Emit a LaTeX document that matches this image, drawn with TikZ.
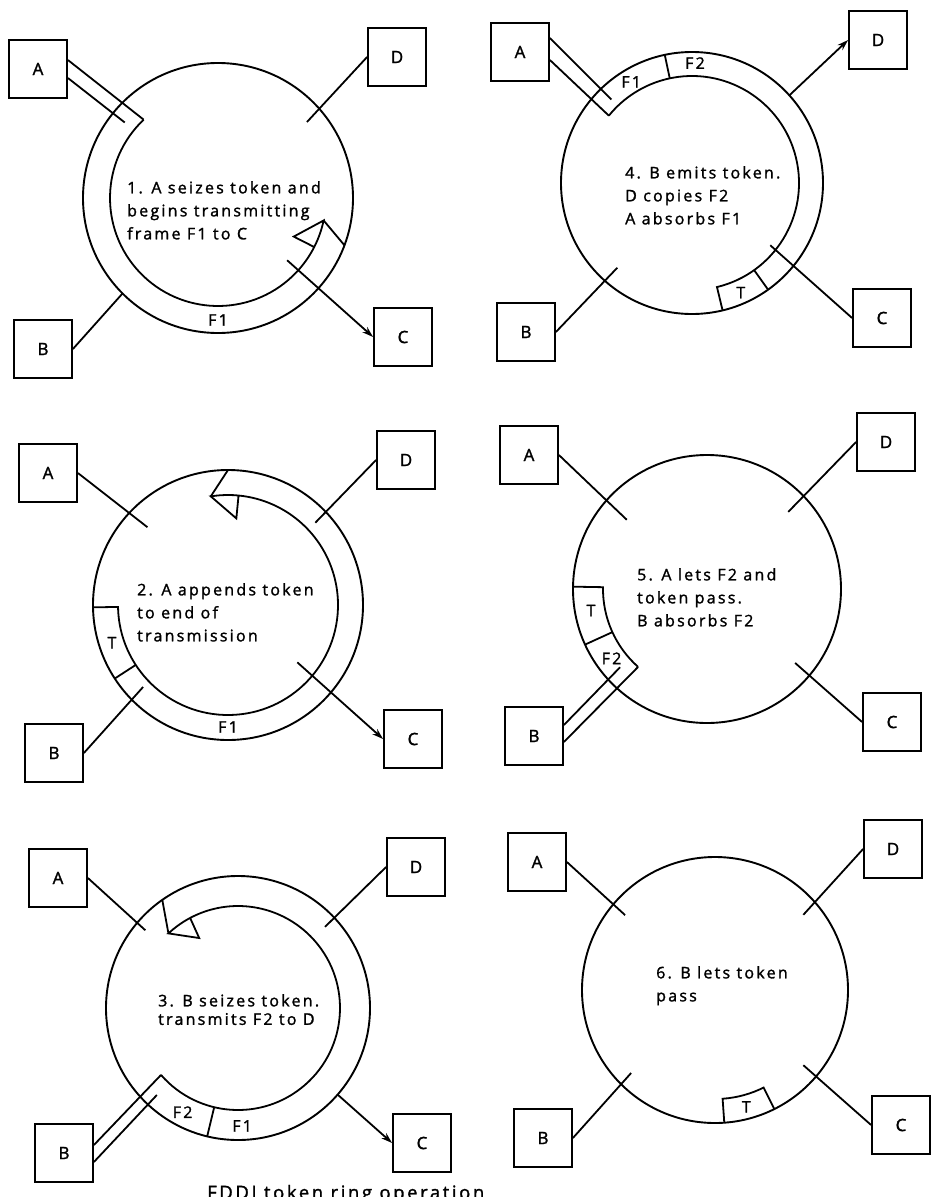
\documentclass[tikz,border=0pt]{standalone}
\usepackage{fontspec}
\setmainfont{Open Sans}[LetterSpace=14, FakeBold=1.5]
\usetikzlibrary{arrows.meta,calc}

\begin{document}
\begin{tikzpicture}[
        x=1pt,
        y=1pt,
        ring/.style={line width=1.9pt},
        band/.style={line width=1.8pt, line join=miter},
        link/.style={line width=1.8pt},
        station/.style={draw, line width=1.8pt, minimum width=58pt, minimum height=58pt, inner sep=0pt, font=\fontsize{17}{17}\selectfont},
        slot/.style={inner sep=0pt, font=\fontsize{16}{16}\selectfont},
        remark/.style={anchor=north west, align=left, inner sep=0pt, font=\fontsize{16}{23}\selectfont},
        >={Stealth[length=11pt, width=7pt]}
    ]
        \path[use as bounding box, fill=white] (0,0) rectangle (935,-1197);

        % rings
        \foreach \p/\x/\y/\rad in {1/218/198/135, 2/228/605/135, 3/238/1008/132,
                                  4/692/183/131, 5/707/589/134, 6/715/990/133}{
            \coordinate (O\p) at (\x,-\y);
            \draw[ring] (O\p) circle[radius=\rad];
        }

        % stations
        \foreach \p/\s/\x/\y in {
            1/A/38/69, 1/B/43/349, 1/C/403/337, 1/D/397/57,
            2/A/48/473, 2/B/54/753, 2/C/413/739, 2/D/406/460,
            3/A/58/878, 3/B/64/1153, 3/C/422/1143, 3/D/416/867,
            4/A/520/52, 4/B/526/332, 4/C/882/318, 4/D/878/40,
            5/A/529/455, 5/B/534/736, 5/C/892/722, 5/D/886/442,
            6/A/537/862, 6/B/543/1138, 6/C/901/1125, 6/D/893/849
        }{
            \node[station] (\s\p) at (\x,-\y) {\s};
        }

        % plain taps
        \foreach \n/\anc/\p/\ang/\rad in {
            D1/west/1/40.5/117, B1/east/1/225/135,
            A2/east/2/136/112, D2/west/2/43.3/120, B2/east/2/224/118,
            A3/east/3/140/121, D3/west/3/43/119,
            B4/east/4/228.6/113, C4/west/4/321.5/100,
            A5/east/5/139.2/106, D5/west/5/43.5/112, C5/west/5/320/115,
            A6/east/6/140.2/117, D6/west/6/40.4/116, B6/east/6/224.7/118, C6/west/6/319.6/116
        }{
            \coordinate (in\n) at ($(O\p)+(\ang:\rad)$);
            \draw[link] (\n.\anc) -- (in\n);
        }

        % taps with arrows
        \coordinate (inC1) at ($(O1)+(318:93)$);
        \draw[link,->] (inC1) -- (C1.west);
        \coordinate (inC2) at ($(O2)+(320.4:90)$);
        \draw[link,->] (inC2) -- (C2.west);
        \coordinate (inC3) at ($(O3)+(319:132)$);
        \draw[link,->] (inC3) -- (C3.west);
        \coordinate (inD4) at ($(O4)+(42:131)$);
        \draw[link,->] (inD4) -- (D4.west);

        % 1: F1 leaves A
        \coordinate (V1) at ($(O1)+(133.5:108)$);
        \coordinate (S1) at ($(O1)+(141:120)$);
        \draw[link] ([yshift=9pt]A1.east) -- (V1);
        \draw[link] ([yshift=-9pt]A1.east) -- (S1);
        \draw[band] (V1) arc[start angle=133.5, end angle=348, radius=108] coordinate (T1)
            -- ($(O1)+(333:85)$) -- ($(O1)+(333:108)$);
        \draw[band] (T1) -- ($(O1)+(339.5:135)$);
        \node[slot] (L1a) at ($(O1)+(270:122)$) {F1};

        % 2: token behind F1
        \draw[band] ($(O2)+(181:135)$) -- ($(O2)+(181:110)$)
            arc[start angle=181, end angle=459, radius=110] coordinate (T2)
            -- ($(O2)+(84.5:87)$) -- ($(O2)+(84.5:110)$);
        \draw[band] (T2) -- ($(O2)+(90:135)$);
        \draw[band] ($(O2)+(213:110)$) -- ($(O2)+(213:135)$);
        \node[slot] (L2a) at ($(O2)+(198:122)$) {T};
        \node[slot] (L2b) at ($(O2)+(270:122)$) {F1};

        % 3: F2 leaves B
        \coordinate (V3) at ($(O3)+(221:102)$);
        \coordinate (S3) at ($(O3)+(227:119)$);
        \draw[link] ([yshift=8pt]B3.east) -- (V3);
        \draw[link] ([yshift=-9pt]B3.east) -- (S3);
        \draw[band] (V3) arc[start angle=221, end angle=493, radius=102] coordinate (T3)
            -- ($(O3)+(119:80)$) -- ($(O3)+(118:102)$);
        \draw[band] (T3) -- ($(O3)+(125:132)$);
        \draw[band] ($(O3)+(256.5:102)$) -- ($(O3)+(256.5:132)$);
        \node[slot] (L3a) at ($(O3)+(242:118)$) {F2};
        \node[slot] (L3b) at ($(O3)+(272:118)$) {F1};

        % 4: F1 back into A
        \draw[band] ($(O4)+(283.5:131)$) -- ($(O4)+(283.5:107)$)
            arc[start angle=283.5, end angle=501, radius=107] coordinate (V4);
        \coordinate (S4) at ($(O4)+(134:116)$);
        \draw[link] ([yshift=-8pt]A4.east) -- (V4);
        \draw[link] ([yshift=14pt]A4.east) -- (S4);
        \draw[band] ($(O4)+(305.5:107)$) -- ($(O4)+(305.5:131)$);
        \draw[band] ($(O4)+(102:107)$) -- ($(O4)+(102:131)$);
        \node[slot] (L4a) at ($(O4)+(294:120)$) {T};
        \node[slot] (L4b) at ($(O4)+(88.6:120)$) {F2};
        \node[slot] (L4c) at ($(O4)+(121:118)$) {F1};

        % 5: F2 back into B
        \draw[band] ($(O5)+(179:134)$) -- ($(O5)+(179:104)$)
            arc[start angle=179, end angle=228.5, radius=104] coordinate (V5);
        \coordinate (S5) at ($(O5)+(222:117)$);
        \draw[link] ([yshift=-6pt]B5.east) -- (V5);
        \draw[link] ([yshift=11pt]B5.east) -- (S5);
        \draw[band] ($(O5)+(204.5:104)$) -- ($(O5)+(204.5:134)$);
        \node[slot] (L5a) at ($(O5)+(190.5:118)$) {T};
        \node[slot] (L5b) at ($(O5)+(216:118)$) {F2};

        % 6: token alone
        \draw[band] ($(O6)+(274:133)$) -- ($(O6)+(274:109)$)
            arc[start angle=274, end angle=296.5, radius=109] -- ($(O6)+(296.5:133)$);
        \node[slot] (L6a) at ($(O6)+(285:121)$) {T};

        % step texts
        \node[remark] (s1) at (127,-181) {1. A seizes token and\\begins transmitting\\frame F1 to C};
        \node[remark] (s2) at (137,-583) {2. A appends token\\to end of\\transmission};
        \node[remark, font=\fontsize{16}{18.5}\selectfont] (s3) at (158,-994) {3. B seizes token.\\transmits F2 to D};
        \node[remark] (s4) at (625,-166) {4. B emits token.\\D copies F2\\A absorbs F1};
        \node[remark] (s5) at (637,-568) {5. A lets F2 and\\token pass.\\B absorbs F2};
        \node[remark] (s6) at (656,-966) {6. B lets token\\pass};

        \node[anchor=base west, inner sep=0pt, font=\fontsize{18.5}{18.5}\selectfont] (cap) at (207,-1199) {FDDI token ring operation};
    \end{tikzpicture}
\end{document}
